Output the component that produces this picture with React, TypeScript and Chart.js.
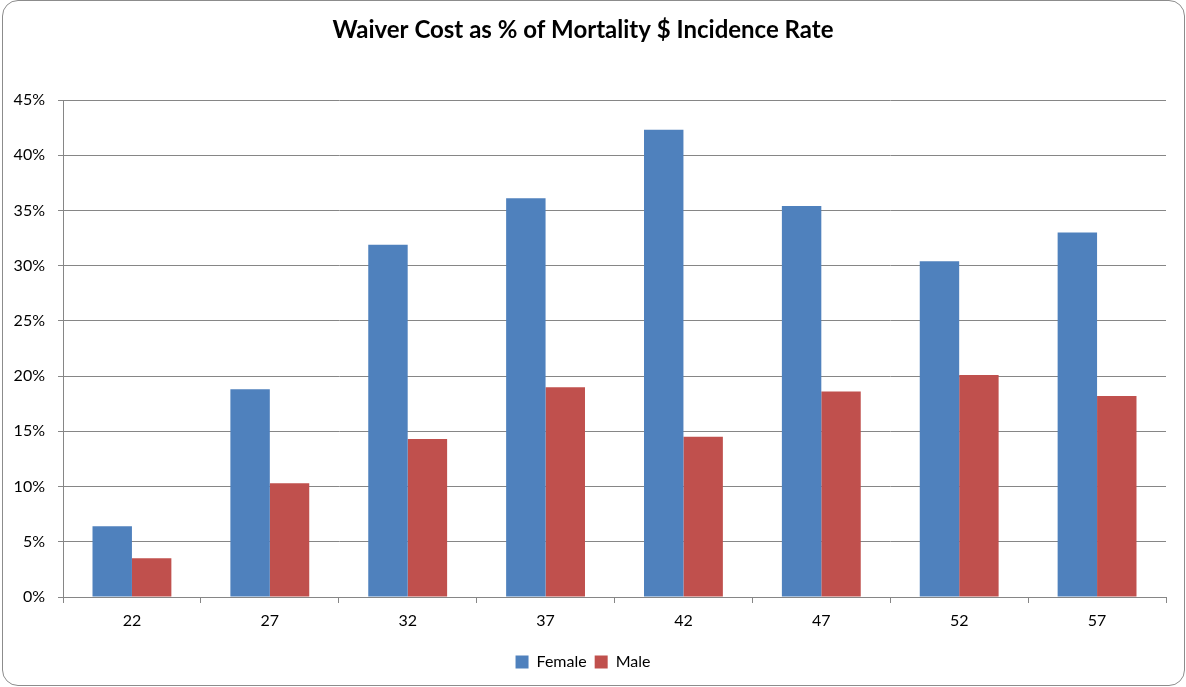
import React, { useEffect, useRef } from "react";
import { Chart, registerables } from "chart.js";

Chart.register(...registerables);

const categories = ["22", "27", "32", "37", "42", "47", "52", "57"];
const femaleValues = [6.4, 18.8, 31.9, 36.1, 42.3, 35.4, 30.4, 33.0];
const maleValues = [3.5, 10.3, 14.3, 19.0, 14.5, 18.6, 20.1, 18.2];
const yTicks = [0, 5, 10, 15, 20, 25, 30, 35, 40, 45];
const titleText = "Waiver Cost as % of Mortality $ Incidence Rate";

const FONT = "Lato, 'Open Sans', sans-serif";

export default function App() {
  const ref = useRef<HTMLCanvasElement | null>(null);

  useEffect(() => {
    document.body.style.margin = "0";
    const ctx = ref.current;
    if (!ctx) return;
    const chart = new Chart(ctx, {
      type: "bar",
      data: {
        labels: categories,
        datasets: [
          {
            label: "Female",
            data: femaleValues,
            backgroundColor: "#4F81BD",
            borderWidth: 0,
          },
          {
            label: "Male",
            data: maleValues,
            backgroundColor: "#C0504D",
            borderWidth: 0,
          },
        ],
      },
      options: {
        responsive: false,
        animation: false,
        devicePixelRatio: 1,
        layout: { padding: { left: 0, right: 20, top: 0, bottom: 7 } },
        datasets: {
          bar: { categoryPercentage: 0.572, barPercentage: 1 },
        },
        plugins: {
          title: {
            display: true,
            text: titleText,
            color: "#000",
            font: { family: FONT, size: 24, weight: "bold" },
            padding: { top: 16, bottom: 55.2 },
          },
          legend: {
            display: true,
            position: "bottom",
            labels: {
              boxWidth: 13,
              boxHeight: 13,
              color: "#000",
              font: { family: FONT, size: 16 },
              padding: 8,
            },
          },
          tooltip: { enabled: false },
        },
        scales: {
          x: {
            grid: {
              offset: true,
              drawOnChartArea: false,
              drawTicks: true,
              tickLength: 6,
              color: "#868686",
            },
            border: { display: true, color: "#868686", width: 1 },
            ticks: {
              color: "#000",
              font: { family: FONT, size: 16 },
              padding: 8,
            },
            afterFit: (scale: any) => {
              scale.height = 49;
            },
          },
          y: {
            min: 0,
            max: 45,
            afterBuildTicks: (scale: any) => {
              scale.ticks = yTicks.map((v) => ({ value: v }));
            },
            grid: {
              color: "#868686",
              tickLength: 5,
            },
            border: { display: true, color: "#868686", width: 1 },
            ticks: {
              color: "#000",
              font: { family: FONT, size: 16 },
              padding: 13,
              callback: (v: any) => `${v}%`,
            },
            afterFit: (scale: any) => {
              scale.width = 63;
            },
          },
        },
      },
    });
    return () => chart.destroy();
  }, []);

  return (
    <div
      style={{
        position: "absolute",
        left: 0,
        top: 0,
        width: 1186,
        height: 687,
        background: "#fff",
      }}
    >
      <canvas
        ref={ref}
        width={1186}
        height={687}
        style={{ position: "absolute", left: 0, top: 0, width: 1186, height: 687 }}
      />
      <div
        style={{
          position: "absolute",
          left: 2,
          top: 0,
          width: 1183,
          height: 686,
          boxSizing: "border-box",
          border: "1px solid #8c8c8c",
          borderRadius: 16,
          pointerEvents: "none",
        }}
      />
    </div>
  );
}
